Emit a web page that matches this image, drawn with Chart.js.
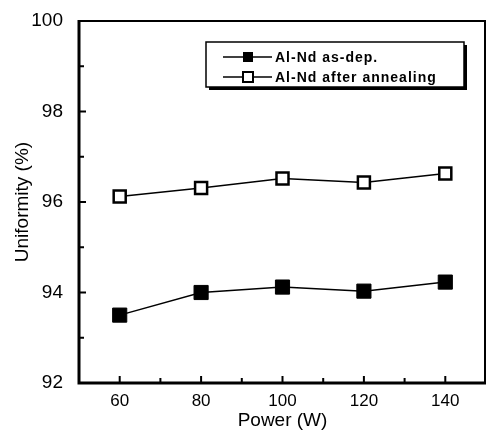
<!DOCTYPE html>
<html>
<head>
<meta charset="utf-8">
<script src="https://cdn.jsdelivr.net/npm/chart.js@4/dist/chart.umd.min.js"></script>
<style>
html,body{margin:0;padding:0;background:#fff;}
#wrap{width:497px;height:436px;}
</style>
</head>
<body>
<div id="wrap"><canvas id="c" width="497" height="436"></canvas></div>
<script>
const powers = [60, 80, 100, 120, 140];
const asDep = [93.5, 94.0, 94.12, 94.03, 94.23];
const afterAnneal = [96.12, 96.31, 96.52, 96.43, 96.63];
const seriesLabels = ['Al-Nd as-dep.', 'Al-Nd after annealing'];
const xMajorTicks = [60, 80, 100, 120, 140];
const xMinorTicks = [70, 90, 110, 130];
const yMajorTicks = [92, 94, 96, 98, 100];
const yMinorTicks = [93, 95, 97, 99];

const FONT = '"Liberation Sans", Arial, Helvetica, sans-serif';

const framePlugin = {
  id: 'frame',
  afterDraw(chart) {
    const ctx = chart.ctx;
    const a = chart.chartArea;
    const xs = chart.scales.x, ys = chart.scales.y;
    ctx.save();
    ctx.strokeStyle = '#000';
    ctx.lineWidth = 2;
    ctx.beginPath();
    ctx.moveTo(a.left, a.top); ctx.lineTo(a.right - 1, a.top); ctx.lineTo(a.right - 1, a.bottom);
    ctx.stroke();
    ctx.lineWidth = 3;
    ctx.beginPath();
    ctx.moveTo(a.left, a.top - 1); ctx.lineTo(a.left, a.bottom); ctx.lineTo(a.right, a.bottom);
    ctx.stroke();
    ctx.lineWidth = 2;
    ctx.beginPath();
    xMajorTicks.forEach(v => { const p = xs.getPixelForValue(v); ctx.moveTo(p, a.bottom); ctx.lineTo(p, a.bottom - 7); });
    xMinorTicks.forEach(v => { const p = xs.getPixelForValue(v); ctx.moveTo(p, a.bottom); ctx.lineTo(p, a.bottom - 5); });
    yMajorTicks.forEach(v => { const p = ys.getPixelForValue(v); ctx.moveTo(a.left, p); ctx.lineTo(a.left + 7, p); });
    yMinorTicks.forEach(v => { const p = ys.getPixelForValue(v); ctx.moveTo(a.left, p); ctx.lineTo(a.left + 5, p); });
    ctx.stroke();

    const L = 206, T = 42, R = 464, B = 87;
    ctx.fillStyle = '#000';
    ctx.fillRect(L + 3, T + 3, R - L, B - T);
    ctx.fillStyle = '#fff';
    ctx.fillRect(L, T, R - L, B - T);
    ctx.lineWidth = 1.5;
    ctx.strokeRect(L, T, R - L, B - T);
    const rows = [57, 77];
    chart.data.datasets.forEach((ds, i) => {
      const y = rows[i];
      ctx.strokeStyle = '#000';
      ctx.lineWidth = 1.5;
      ctx.beginPath(); ctx.moveTo(223, y); ctx.lineTo(272, y); ctx.stroke();
      const s = 10;
      if (ds.pointBackgroundColor === '#000') {
        ctx.fillStyle = '#000';
        ctx.fillRect(248 - s / 2, y - s / 2, s, s);
      } else {
        ctx.fillStyle = '#fff';
        ctx.fillRect(248 - s / 2, y - s / 2, s, s);
        ctx.lineWidth = 2;
        ctx.strokeRect(248 - s / 2, y - s / 2, s, s);
      }
      ctx.fillStyle = '#000';
      ctx.font = 'bold 14px ' + FONT;
      ctx.letterSpacing = '1px';
      ctx.textBaseline = 'middle';
      ctx.textAlign = 'left';
      ctx.fillText(ds.label, 275, y + 1);
      ctx.letterSpacing = '0px';
    });
    ctx.restore();
  }
};

new Chart(document.getElementById('c'), {
  type: 'line',
  data: {
    datasets: [
      {
        label: seriesLabels[0],
        data: powers.map((p, i) => ({x: p, y: asDep[i]})),
        borderColor: '#000', borderWidth: 1.5,
        pointStyle: 'rect', pointRadius: 10, pointHoverRadius: 10,
        pointBackgroundColor: '#000', pointBorderColor: '#000', pointBorderWidth: 1,
        tension: 0
      },
      {
        label: seriesLabels[1],
        data: powers.map((p, i) => ({x: p, y: afterAnneal[i]})),
        borderColor: '#000', borderWidth: 1.5,
        pointStyle: 'rect', pointRadius: 8.5, pointHoverRadius: 8.5,
        pointBackgroundColor: '#fff', pointBorderColor: '#000', pointBorderWidth: 2.5,
        tension: 0
      }
    ]
  },
  options: {
    responsive: false,
    animation: false,
    events: [],
    layout: { padding: { top: 21, right: 0, left: 0, bottom: 0 } },
    plugins: { legend: { display: false }, tooltip: { enabled: false } },
    scales: {
      x: {
        type: 'linear', min: 50, max: 150,
        afterBuildTicks: s => { s.ticks = xMajorTicks.map(v => ({value: v})); },
        afterFit: s => { s.height = 53; },
        grid: { display: false },
        border: { display: false },
        ticks: { color: '#000', font: { family: FONT, size: 17 }, padding: 0 },
        title: { display: true, text: 'Power (W)', color: '#000', font: { family: FONT, size: 19 }, padding: { top: 0, bottom: 4 } }
      },
      y: {
        type: 'linear', min: 92, max: 100,
        afterBuildTicks: s => { s.ticks = yMajorTicks.map(v => ({value: v})); },
        afterFit: s => { s.width = 79; },
        grid: { display: false },
        border: { display: false },
        ticks: { color: '#000', font: { family: FONT, size: 19 }, padding: 8 },
        title: { display: true, text: 'Uniformity (%)', color: '#000', font: { family: FONT, size: 19 }, padding: { top: 11, bottom: 0 } }
      }
    }
  },
  plugins: [framePlugin]
});
</script>
</body>
</html>
